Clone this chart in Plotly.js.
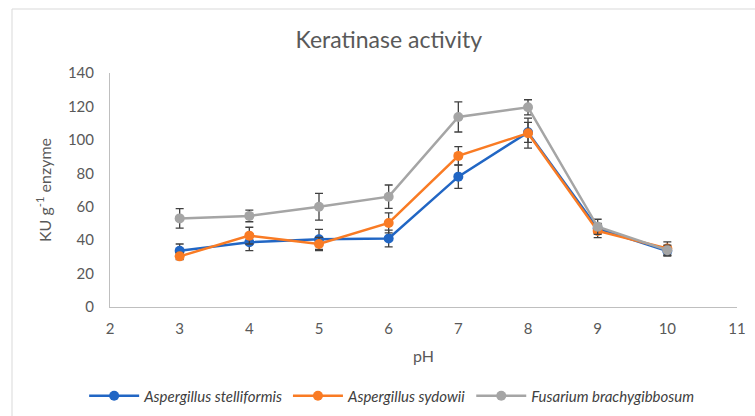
<!DOCTYPE html>
<html>
<head>
<meta charset="utf-8">
<script src="https://cdn.plot.ly/plotly-3.0.1.min.js"></script>
<style>
html,body{margin:0;padding:0;background:#fff;}
#chart{width:755px;height:416px;}
</style>
</head>
<body>
<div id="chart"></div>
<script>
const pH = [3, 4, 5, 6, 7, 8, 9, 10];
const stelliformis = [33.7, 38.7, 40.5, 41, 78, 104.5, 47, 33.5];
const stelliformisErr = [4, 5, 6, 5, 7, 6, 3, 3];
const sydowii = [30.3, 42.7, 37.7, 50.3, 90.4, 104, 45.5, 35];
const sydowiiErr = [2, 5, 4, 6, 5.5, 9, 4, 4];
const fusarium = [53, 54.5, 60, 66, 113.7, 119.5, 48, 34];
const fusariumErr = [5.8, 3.5, 8, 7, 9, 4.5, 4.5, 3];
const names = ['Aspergillus stelliformis', 'Aspergillus sydowii', 'Fusarium brachygibbosum'];
const colors = ['#2166c4', '#f97b24', '#a5a5a5'];

const series = [stelliformis, sydowii, fusarium];
const errs = [stelliformisErr, sydowiiErr, fusariumErr];

const traces = series.map((s, i) => ({
  x: pH, y: s, type: 'scatter', mode: 'lines+markers',
  name: '<i>' + names[i] + '</i>',
  line: {color: colors[i], width: 2.5},
  marker: {color: colors[i], size: 10},
  error_y: {type: 'data', array: errs[i], visible: true, color: '#404040', thickness: 1.3, width: 4}
}));

const font = "Lato, 'Open Sans', sans-serif";
const layout = {
  width: 755, height: 416,
  margin: {l: 110, r: 18, t: 73, b: 109, autoexpand: false},
  paper_bgcolor: '#fff', plot_bgcolor: '#fff',
  font: {family: font, color: '#595959', size: 15},
  title: {text: 'Keratinase activity', font: {family: font, size: 23, color: '#595959'}, x: 0.515, xanchor: 'center', y: 0.905, yanchor: 'middle'},
  xaxis: {
    range: [2, 11], dtick: 1, tick0: 2, showgrid: false, zeroline: false,
    showline: true, linecolor: '#bfbfbf', linewidth: 1,
    ticks: 'outside', tickcolor: 'rgba(0,0,0,0)', ticklen: 8,
    tickfont: {size: 15, color: '#595959'},
    title: {text: 'pH', font: {size: 16, color: '#595959'}, standoff: 14}
  },
  yaxis: {
    range: [0, 140], dtick: 20, showgrid: false, zeroline: false,
    showline: true, linecolor: '#bfbfbf', linewidth: 1,
    ticks: 'outside', tickcolor: 'rgba(0,0,0,0)', ticklen: 12,
    tickfont: {size: 15, color: '#595959'},
    title: {text: 'KU g<sup>-1</sup> enzyme', font: {size: 16, color: '#595959'}, standoff: 12}
  },
  showlegend: true,
  legend: {orientation: 'h', x: 0.45, xanchor: 'center', y: -0.38, yanchor: 'middle', font: {size: 15, color: '#404040'}, itemwidth: 50, tracegroupgap: 0},
  shapes: [{
    type: 'rect', xref: 'paper', yref: 'paper',
    x0: (12 - 110) / 627, x1: (770 - 110) / 627,
    y0: -(430 - 307) / 234, y1: (307 - 9) / 234,
    line: {color: '#d9d9d9', width: 1}, fillcolor: 'rgba(0,0,0,0)', layer: 'below'
  }]
};

Plotly.newPlot('chart', traces, layout, {displayModeBar: false, staticPlot: true});
</script>
</body>
</html>
